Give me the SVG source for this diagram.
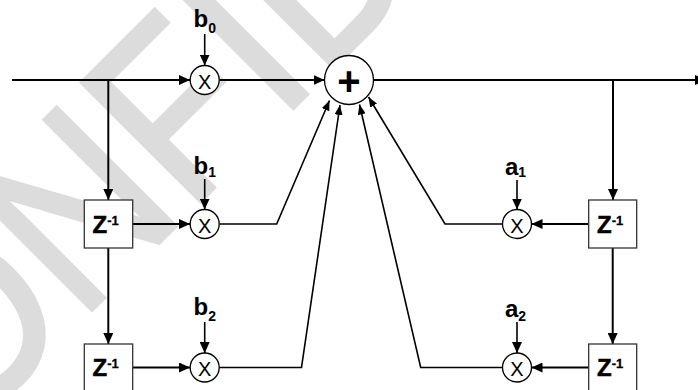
<svg xmlns="http://www.w3.org/2000/svg" width="698" height="390" viewBox="0 0 698 390">
<style>
.wm{font-family:"Liberation Sans",Arial,sans-serif;font-size:244px;fill:#dcdcdc;stroke:#dcdcdc;stroke-width:4}
.ln{fill:none;stroke:#000;stroke-width:2}
.dg{fill:none;stroke:#000;stroke-width:1.6}
.cf{fill:none;stroke:#000;stroke-width:1.6}
.node circle{fill:#fff;stroke:#000;stroke-width:1.3}
.node rect{fill:#fff;stroke:#333;stroke-width:1.3}
.mx{font-family:"Liberation Sans",Arial,sans-serif;font-size:20px;text-anchor:middle;fill:#000}
.pl{font-family:"Liberation Sans",Arial,sans-serif;font-size:40px;font-weight:bold;text-anchor:middle;fill:#000}
.lb{font-family:"Liberation Sans",Arial,sans-serif;font-size:24px;font-weight:bold;fill:#000}
.sb{font-size:14px}
.zt{font-family:"Liberation Sans",Arial,sans-serif;font-size:24px;font-weight:bold;fill:#000;stroke:#000;stroke-width:0.5}
.sp{font-size:13px;stroke-width:0.3}
</style>
<defs>
<marker id="ah" markerUnits="userSpaceOnUse" markerWidth="11" markerHeight="10" refX="11" refY="5" orient="auto"><path d="M0,0 L11,5 L0,10 z" fill="#000"/></marker>
<marker id="as" markerUnits="userSpaceOnUse" markerWidth="10" markerHeight="8" refX="10" refY="4" orient="auto"><path d="M0,0 L10,4 L0,8 z" fill="#000"/></marker>
</defs>
<g id="watermark">
<text class="wm" transform="rotate(-45) scale(0.87,1)" x="-563.2" y="284">CONFIDENTIAL</text>
</g>
<g id="connectors">
<path class="ln" d="M12,80 H190" marker-end="url(#ah)"/>
<path class="ln" d="M108.3,80 V200" marker-end="url(#ah)"/>
<path class="ln" d="M219.2,80 H324.5" marker-end="url(#ah)"/>
<path class="cf" d="M204.7,34 V65.5" marker-end="url(#ah)"/>
<path class="ln" d="M373.5,80 H706" marker-end="url(#ah)"/>
<path class="ln" d="M613,80 V200" marker-end="url(#ah)"/>
<path class="ln" d="M132.7,224 H190" marker-end="url(#ah)"/>
<path class="cf" d="M204.7,179 V209.5" marker-end="url(#ah)"/>
<path class="dg" d="M219.2,224 H276.7 L329.5,100.5" marker-end="url(#as)"/>
<path class="ln" d="M108.3,248 V344" marker-end="url(#ah)"/>
<path class="ln" d="M132.7,367.5 H190" marker-end="url(#ah)"/>
<path class="cf" d="M204.7,322 V353" marker-end="url(#ah)"/>
<path class="dg" d="M219.2,367.5 H301.5 L340,105" marker-end="url(#as)"/>
<path class="ln" d="M588.7,224 H531.5" marker-end="url(#ah)"/>
<path class="cf" d="M517,180 V209.5" marker-end="url(#ah)"/>
<path class="dg" d="M502.5,224 H445 L368.5,97" marker-end="url(#as)"/>
<path class="ln" d="M612.7,248 V344" marker-end="url(#ah)"/>
<path class="ln" d="M588.7,367.5 H531.5" marker-end="url(#ah)"/>
<path class="cf" d="M517,322 V353" marker-end="url(#ah)"/>
<path class="dg" d="M502.5,367.5 H420.7 L359.5,104.5" marker-end="url(#as)"/>
</g>
<g id="sum" class="node"><circle cx="349" cy="80" r="24.5"/><text class="pl" x="349" y="95">+</text></g>
<g id="mul_b0" class="node"><circle cx="204.7" cy="80" r="14.5"/><text class="mx" x="204.7" y="88.7">X</text></g>
<g id="mul_b1" class="node"><circle cx="204.7" cy="224" r="14.5"/><text class="mx" x="204.7" y="232.7">X</text></g>
<g id="mul_b2" class="node"><circle cx="204.7" cy="367.5" r="14.5"/><text class="mx" x="204.7" y="376.2">X</text></g>
<g id="mul_a1" class="node"><circle cx="517" cy="224" r="14.5"/><text class="mx" x="517" y="232.7">X</text></g>
<g id="mul_a2" class="node"><circle cx="517" cy="367.5" r="14.5"/><text class="mx" x="517" y="376.2">X</text></g>
<g id="z_l1" class="node"><rect x="84.3" y="200" width="48.4" height="48"/><text class="zt" x="92.5" y="233">Z<tspan class="sp" dy="-8">-1</tspan></text></g>
<g id="z_l2" class="node"><rect x="84.3" y="344" width="48.4" height="48"/><text class="zt" x="92.5" y="375.5">Z<tspan class="sp" dy="-8">-1</tspan></text></g>
<g id="z_r1" class="node"><rect x="588.7" y="200" width="48" height="48"/><text class="zt" x="597" y="233">Z<tspan class="sp" dy="-8">-1</tspan></text></g>
<g id="z_r2" class="node"><rect x="588.7" y="344" width="48" height="48"/><text class="zt" x="597" y="375.5">Z<tspan class="sp" dy="-8">-1</tspan></text></g>
<g id="lbl_b0"><text class="lb" x="193.5" y="26.7">b<tspan class="sb" dy="6">0</tspan></text></g>
<g id="lbl_b1"><text class="lb" x="193.5" y="174">b<tspan class="sb" dy="3">1</tspan></text></g>
<g id="lbl_b2"><text class="lb" x="193.5" y="315">b<tspan class="sb" dy="6">2</tspan></text></g>
<g id="lbl_a1"><text class="lb" x="505" y="175">a<tspan class="sb" dy="2">1</tspan></text></g>
<g id="lbl_a2"><text class="lb" x="505" y="317">a<tspan class="sb" dy="4">2</tspan></text></g>
</svg>
